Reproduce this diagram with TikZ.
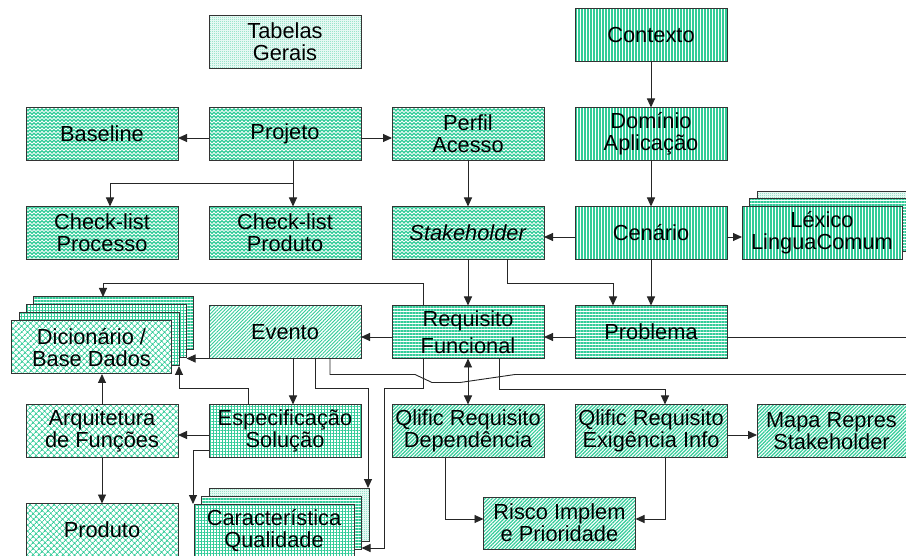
\documentclass[tikz,border=0pt]{standalone}
\usepackage{fontspec}
\setmainfont{Liberation Sans}
\usetikzlibrary{arrows.meta, positioning, patterns.meta}

\definecolor{boxgreen}{RGB}{51,204,153}

\tikzdeclarepattern{
  name=checker,
  bounding box={(0pt,0pt) and (2pt,2pt)},
  tile size={(2pt,2pt)},
  code={
    \fill (0pt,0pt) rectangle (1pt,1pt);
    \fill (1pt,1pt) rectangle (2pt,2pt);
  }
}

\tikzdeclarepattern{
  name=zigzag,
  bounding box={(-0.5pt,0pt) and (4.5pt,3.5pt)},
  tile size={(4pt,3.5pt)},
  code={
    \draw[line width=1.1pt] (-1pt,1.75pt) -- (0pt,0.75pt) -- (2pt,2.75pt) -- (4pt,0.75pt) -- (5pt,1.75pt);
  }
}

\begin{document}
\begin{tikzpicture}[
    x=1pt, y=-1pt,
    node distance=46pt and 31pt,
    every node/.style={font=\fontsize{21.8}{22}\selectfont, align=center},
    box/.style={draw=black!80, line width=1pt, preaction={fill=white}, pattern color=boxgreen,
                minimum width=152pt, minimum height=53pt, inner sep=1pt, outer sep=0pt},
    stack/.style={box, minimum width=160pt},
    pat hl/.style={pattern={Lines[angle=0, distance=3pt, line width=1.4pt]}},
    pat vl/.style={pattern={Lines[angle=90, distance=3pt, line width=1.4pt]}},
    pat ne/.style={pattern={Lines[angle=45, distance=2.5pt, line width=0.9pt]}},
    pat dense/.style={pattern={Lines[angle=45, distance=2.5pt, line width=1.2pt]}},
    pat grid/.style={pattern={Hatch[angle=0, distance=3pt, line width=0.8pt]}},
    pat diamond/.style={pattern={Hatch[angle=45, distance=4pt, line width=0.9pt]}},
    pat check/.style={pattern=checker},
    pat wave/.style={pattern=zigzag},
    arrow/.style={-{Triangle[length=9pt, width=8pt]}, draw=black!85, line width=0.9pt},
    biarrow/.style={arrow, {Triangle[length=9pt, width=8pt]}-{Triangle[length=9pt, width=8pt]}},
    wire/.style={draw=black!85, line width=0.9pt}
  ]
  \useasboundingbox (0,0) rectangle (906,556);

  % Upper rows
  \node[box, pat wave] (projeto) at (285,134) {Projeto};
  \node[box, pat wave, left=of projeto] (baseline) {Baseline};
  \node[box, pat wave, right=of projeto] (perfil) {Perfil\\Acesso};
  \node[box, pat vl, right=of perfil] (dominio) {Domínio\\Aplicação};
  \node[box, pat vl, above=of dominio] (contexto) {Contexto};
  \node[box, pat check, above=39pt of projeto] (tabelas) {Tabelas\\Gerais};

  \node[box, pat wave, below=of baseline] (chkproc) {Check-list\\Processo};
  \node[box, pat wave, below=of projeto] (chkprod) {Check-list\\Produto};
  \node[box, pat wave, below=of perfil] (stakeholder) {\textit{Stakeholder}};
  \node[box, pat vl, below=of dominio] (cenario) {Cenário};

  % Lexico stack
  \coordinate[right=95pt of cenario.east] (lexpos);
  \node[stack, pat check] (lex2) at ([shift={(15,-15)}]lexpos) {};
  \node[stack, pat hl] (lex1) at ([shift={(7.5,-7.5)}]lexpos) {};
  \node[stack, pat vl] (lexico) at (lexpos) {Léxico\\LinguaComum};

  % Middle row
  \node[box, pat ne, below=of chkprod] (evento) {Evento};
  \node[box, pat hl, below=of stakeholder] (reqfunc) {Requisito\\[5pt]Funcional};
  \node[box, pat hl, below=of cenario] (problema) {Problema};

  % Dicionario stack
  \coordinate (dicpos) at (91.5,347.5);
  \node[stack, pat hl] (dic3) at ([shift={(22,-24)}]dicpos) {};
  \node[stack, pat grid] (dic2) at ([shift={(15,-16)}]dicpos) {};
  \node[stack, pat grid] (dic1) at ([shift={(7.5,-8)}]dicpos) {};
  \node[stack, pat diamond] (dic) at (dicpos) {Dicionário /\\Base Dados};

  % Lower rows
  \node[box, pat grid, below=of evento] (espec) {Especificação\\Solução};
  \node[box, pat diamond, left=of espec] (arquit) {Arquitetura\\de Funções};
  \node[box, pat dense, below=of reqfunc] (qdep) {Qlific Requisito\\Dependência};
  \node[box, pat dense, below=of problema] (qexig) {Qlific Requisito\\Exigência Info};
  \node[box, pat dense, minimum width=149pt, right=30pt of qexig] (mapa) {Mapa Repres\\Stakeholder};

  \node[box, pat diamond, below=of arquit] (produto) {Produto};
  \coordinate (carpos) at (274,530.5);
  \node[stack, pat check] (car2) at ([shift={(15,-16)}]carpos) {};
  \node[stack, pat hl] (car1) at ([shift={(7.5,-8)}]carpos) {};
  \node[stack, pat grid] (car) at (carpos) {Característica\\Qualidade};
  \node[box, pat dense, minimum height=52pt] (risco) at (559.5,523) {Risco Implem\\e Prioridade};

  % Connections
  \draw[arrow] (contexto) -- (dominio);
  \draw[arrow] (dominio) -- (cenario);
  \draw[arrow] ([yshift=-4pt]projeto.west) -- ([yshift=-4pt]baseline.east);
  \draw[arrow] ([yshift=-4pt]projeto.east) -- ([yshift=-4pt]perfil.west);
  \draw[arrow] ([xshift=8pt]projeto.south) -- ([xshift=8pt]chkprod.north);
  \draw[arrow] ([xshift=8pt]projeto.south) -- ++(0,23) -| ([xshift=8pt]chkproc.north);
  \draw[arrow] (perfil) -- (stakeholder);
  \draw[arrow] ([yshift=-4pt]cenario.west) -- ([yshift=-4pt]stakeholder.east);
  \draw[arrow] ([yshift=-4pt]cenario.east) -- ([yshift=-4pt]cenario.east -| lexico.west);
  \draw[arrow] (stakeholder) -- (reqfunc);
  \draw[arrow] ([xshift=39pt]stakeholder.south) -- ++(0,24) -| ([xshift=-38pt]problema.north);
  \draw[arrow] (cenario) -- (problema);
  \draw[arrow] ([yshift=-5pt]problema.west) -- ([yshift=-5pt]reqfunc.east);
  \draw[wire] ([yshift=-5pt]problema.east) -- ++(180,0) coordinate (exitA);
  \draw[arrow] ([yshift=-5pt]reqfunc.west) -- ([yshift=-5pt]evento.east);
  \draw[arrow] ([xshift=-45pt]reqfunc.north) -- ++(0,-22) -| ([xshift=-10.5pt]dic3.north);
  \draw[arrow] ([xshift=-45pt]reqfunc.south) -- ++(0,30) -- ++(-39,0) |- ([yshift=1pt]car1.south east);
  \draw[biarrow] (reqfunc) -- (qdep);
  \draw[arrow] ([xshift=31pt]reqfunc.south) -- ++(0,31) -| ([xshift=14pt]qexig.north);

  \draw[arrow] (evento.south west) -- (evento.south west -| dic2.east);
  \draw[arrow] ([xshift=8pt]evento.south) -- ([xshift=8pt]espec.north);
  \draw[arrow] ([xshift=30pt]evento.south) -- ++(0,30) -| ([xshift=-1pt]car2.north east);
  \draw[wire] ([xshift=45pt]evento.south) -- ++(0,16) -- ++(85,0) -- ++(17,8) -- ++(28,0) -- ++(55,-8) -- ++(392,0) coordinate (exitB);

  \draw[arrow] ([yshift=-4pt]espec.west) -- ([yshift=-4pt]arquit.east);
  \draw[arrow] ([xshift=-37pt]espec.north) -- ++(0,-16) -| (dic1.south east);
  \draw[arrow] ([yshift=-19.5pt]espec.west) -| ([xshift=-1pt]car.north west);
  \draw[arrow] (arquit.north) -- (arquit.north |- dic.south);
  \draw[arrow] (arquit) -- (produto);

  \draw[arrow] ([yshift=-4pt]qexig.east) -- ([yshift=-4pt]qexig.east -| mapa.west);
  \draw[arrow] ([xshift=14pt]qexig.south) |- ([yshift=4pt]risco.east);
  \draw[arrow] ([xshift=-23pt]qdep.south) |- ([yshift=4pt]risco.west);
\end{tikzpicture}
\end{document}
